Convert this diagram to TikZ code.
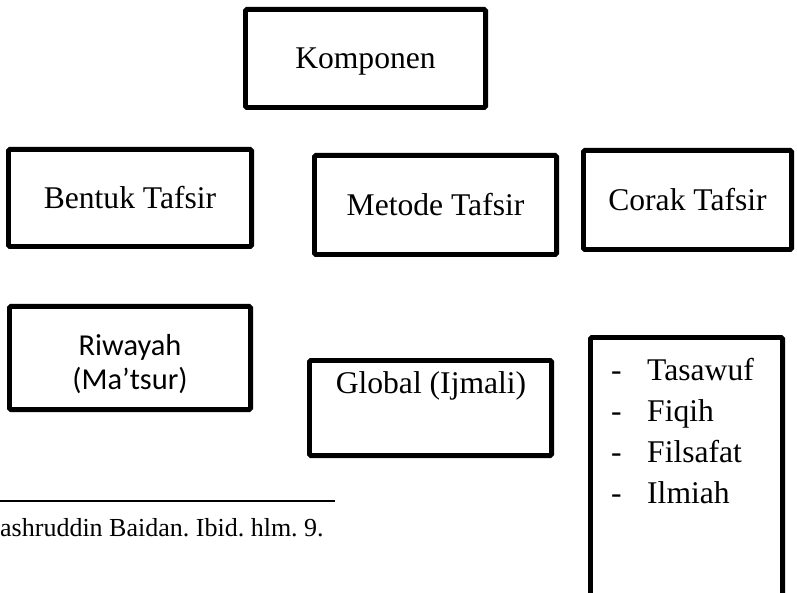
\documentclass[tikz,border=0pt]{standalone}
\usepackage{fontspec}
\setmainfont{Liberation Serif}
\newfontfamily\calibrifam{Carlito}
\newcommand\mainfs{\fontsize{31.6}{38}\selectfont}
\newcommand\riwfs{\calibrifam\fontsize{30.4}{33}\selectfont}
\newcommand\footfs{\fontsize{26}{30}\selectfont}
\frenchspacing
\begin{document}
\begin{tikzpicture}[x=1pt,y=-1pt,
  tbox/.style={draw, line width=4.8pt, rounded corners=1.5pt, inner sep=0pt,
    font=\mainfs, text height=21pt, text depth=0pt},
  txt/.style={inner sep=0pt, anchor=base west, font=\mainfs},
  ctxt/.style={inner sep=0pt, anchor=base},
]
\useasboundingbox (0,0) rectangle (797,593);
\clip (0,0) rectangle (797,593);

\node[tbox, minimum width=240.2pt, minimum height=98.2pt] (komp) at (365.5,58.5) {Komponen};
\node[tbox, minimum width=243.2pt, minimum height=97.2pt] (bentuk) at (130,198) {Bentuk Tafsir};
\node[tbox, minimum width=242.2pt, minimum height=99.2pt] (metode) at (435.5,205) {Metode Tafsir};
\node[tbox, minimum width=208.2pt, minimum height=99.2pt] (corak) at (687.5,200) {Corak Tafsir};

\node[tbox, minimum width=241.2pt, minimum height=103.2pt] (riwayah) at (130,358) {};
\node[ctxt, font=\riwfs] (riw1) at (130,355) {Riwayah};
\node[ctxt, font=\riwfs] (riw2) at (130,389) {(Ma’tsur)};

\node[tbox, minimum width=242.2pt, minimum height=95.2pt] (global) at (430.5,408) {};
\node[ctxt, font=\mainfs] (globaltxt) at (431,393) {Global (Ijmali)};

\node[tbox, minimum width=192.2pt, minimum height=300.2pt] (corakbox) at (686.5,487.5) {};
\node[txt] (d1) at (611,380) {-};
\node[txt] (d2) at (611,421) {-};
\node[txt] (d3) at (611,462) {-};
\node[txt] (d4) at (611,503) {-};
\node[txt] (c1) at (647,380) {Tasawuf};
\node[txt] (c2) at (647,421) {Fiqih};
\node[txt] (c3) at (647,462) {Filsafat};
\node[txt] (c4) at (647,503) {Ilmiah};

\coordinate (fl1) at (0,501);
\coordinate (fl2) at (335,501);
\draw[line width=1.6pt] (fl1) -- (fl2);
\node[inner sep=0pt, anchor=base west, font=\footfs] (foot) at (0,536) {ashruddin Baidan. Ibid. hlm. 9.};
\end{tikzpicture}
\end{document}
